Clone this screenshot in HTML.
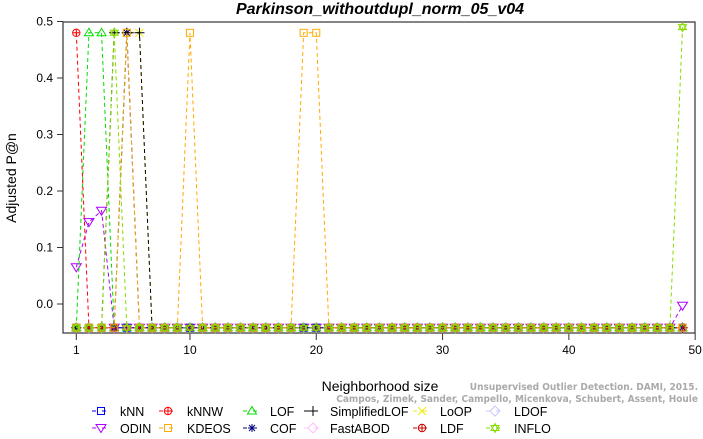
<!DOCTYPE html>
<html><head><meta charset="utf-8"><style>
body{margin:0;background:#fff;}
svg text{font-family:"Liberation Sans",sans-serif;}
</style></head><body>
<svg id="chart" width="703" height="434" viewBox="0 0 703 434" xmlns="http://www.w3.org/2000/svg">
<text x="380" y="14" text-anchor="middle" font-size="16" font-weight="bold" font-style="italic">Parkinson_withoutdupl_norm_05_v04</text>
<rect x="63" y="22" width="632" height="311" fill="none" stroke="#333" stroke-width="1.2"/>
<g id="axes"></g>
<g id="series"></g>
<text x="16" y="178" transform="rotate(-90 16 178)" text-anchor="middle" font-size="14">Adjusted P@n</text>
<text x="380" y="391" text-anchor="middle" font-size="14">Neighborhood size</text>
<text x="698" y="390" text-anchor="end" font-size="10" font-weight="bold" fill="#aaa" style="font-family:'DejaVu Sans Condensed','DejaVu Sans',sans-serif;font-stretch:condensed">Unsupervised Outlier Detection. DAMI, 2015.</text>
<text x="698" y="402" text-anchor="end" font-size="10" font-weight="bold" fill="#aaa" style="font-family:'DejaVu Sans Condensed','DejaVu Sans',sans-serif;font-stretch:condensed">Campos, Zimek, Sander, Campello, Micenkova, Schubert, Assent, Houle</text>
<g id="legend"></g>
</svg>
<script>
const xTicks=[1,10,20,30,40,50];
const yTicks=[0.0,0.1,0.2,0.3,0.4,0.5];
const ks=[];for(let k=1;k<=49;k++)ks.push(k);
const B=-0.042;
const seriesNames=["kNN","kNNW","LOF","SimplifiedLOF","LoOP","LDOF","ODIN","KDEOS","COF","FastABOD","LDF","INFLO"];
const seriesColors=["#0000ff","#ff0000","#00dd00","#000000","#eeee00","#c8c8ff","#aa00ff","#ffaa00","#000080","#ffc0ff","#cc0000","#88dd00"];
const peaksKNNW={1:0.48};
const peaksLOF={2:0.48,3:0.48};
const peaksSLOF={4:0.48,5:0.48,6:0.48};
const peaksLoOP={5:0.48,6:0.48};
const peaksLDOF={5:0.48};
const peaksODIN={1:0.065,2:0.145,3:0.165,49:-0.003};
const peaksKDEOS={5:0.48,10:0.48,19:0.48,20:0.48};
const peaksCOF={5:0.48};
const peaksINFLO={4:0.48,49:0.49};
const peaksList=[{},peaksKNNW,peaksLOF,peaksSLOF,peaksLoOP,peaksLDOF,peaksODIN,peaksKDEOS,peaksCOF,{},{},peaksINFLO];
const sx=k=>76.3+(k-1)*12.63;
const sy=v=>304-v*565;
const NS="http://www.w3.org/2000/svg";
function mk(t,a,p){const e=document.createElementNS(NS,t);for(const k in a)e.setAttribute(k,a[k]);p.appendChild(e);return e;}
const axes=document.getElementById('axes');
xTicks.forEach(t=>{
 const l=mk('line',{x1:sx(t),x2:sx(t),y1:333,y2:340,stroke:'#333'},axes);
 
 
 const tx=mk('text',{x:sx(t),y:354,'text-anchor':'middle','font-size':12},axes);tx.textContent=t;
 
 
});
yTicks.forEach(t=>{
 const l=mk('line',{x1:57,x2:63,y1:sy(t),y2:sy(t),stroke:'#333'},axes);
 
 
 const tx=mk('text',{x:53,y:sy(t)+4,'text-anchor':'end','font-size':12},axes);tx.textContent=t.toFixed(1);
 
 
});
function marker(i,x,y,g){
 const c=seriesColors[i];const s={fill:'none',stroke:c,'stroke-width':1};
 switch(i){
  case 0: case 7: mk('rect',Object.assign({x:x-3.5,y:y-3.5,width:7,height:7},s),g);break;
  case 1: case 10: mk('circle',Object.assign({cx:x,cy:y,r:3.7},s),g);mk('path',Object.assign({d:`M${x-3.7} ${y}H${x+3.7}M${x} ${y-3.7}V${y+3.7}`},s),g);break;
  case 2: mk('path',Object.assign({d:`M${x} ${y-4.5}L${x+4.5} ${y+3}L${x-4.5} ${y+3}Z`},s),g);break;
  case 3: mk('path',Object.assign({d:`M${x-5} ${y}H${x+5}M${x} ${y-5}V${y+5}`},s),g);break;
  case 4: mk('path',Object.assign({d:`M${x-4} ${y-4}L${x+4} ${y+4}M${x+4} ${y-4}L${x-4} ${y+4}`},s),g);break;
  case 5: case 9: mk('path',Object.assign({d:`M${x} ${y-5}L${x+5} ${y}L${x} ${y+5}L${x-5} ${y}Z`},s),g);break;
  case 6: mk('path',Object.assign({d:`M${x} ${y+4.5}L${x+5} ${y-3.5}L${x-5} ${y-3.5}Z`},s),g);break;
  case 8: mk('path',Object.assign({d:`M${x-4} ${y}H${x+4}M${x} ${y-4}V${y+4}M${x-3} ${y-3}L${x+3} ${y+3}M${x+3} ${y-3}L${x-3} ${y+3}`},s),g);break;
  case 11: mk('path',Object.assign({d:`M${x} ${y-4.5}L${x+4} ${y+2.5}L${x-4} ${y+2.5}ZM${x} ${y+4.5}L${x+4} ${y-2.5}L${x-4} ${y-2.5}Z`},s),g);break;
 }
}
const sg=document.getElementById('series');
const order=[5,9,4,10,6,8,3,2,1,0,7,11];
order.forEach(i=>{
 const g=mk('g',{},sg);
 
 
 const vals=ks.map(k=>peaksList[i][k]!==undefined?peaksList[i][k]:B);
 const pts=ks.map((k,j)=>sx(k)+','+sy(vals[j])).join(' ');
 mk('polyline',{points:pts,fill:'none',stroke:seriesColors[i],'stroke-width':1,'stroke-dasharray':'4,3'},g);
 ks.forEach((k,j)=>marker(i,sx(k),sy(vals[j]),g));
});
const lg=document.getElementById('legend');
const colM=[101,168,252,313,422,495],colT=[120,187,270,330,440,514],rowY=[411,428];
seriesNames.forEach((n,i)=>{
 const r=i<6?0:1,c=i%6;
 const g=mk('g',{},lg);
 
 
 mk('line',{x1:colM[c]-9,x2:colM[c]+9,y1:rowY[r],y2:rowY[r],stroke:seriesColors[i],'stroke-dasharray':'4,6'},g);
 marker(i,colM[c],rowY[r],g);
 const t=mk('text',{x:colT[c],y:rowY[r]+5,'font-size':12.5},g);t.textContent=n;
});
</script>
</body></html>
